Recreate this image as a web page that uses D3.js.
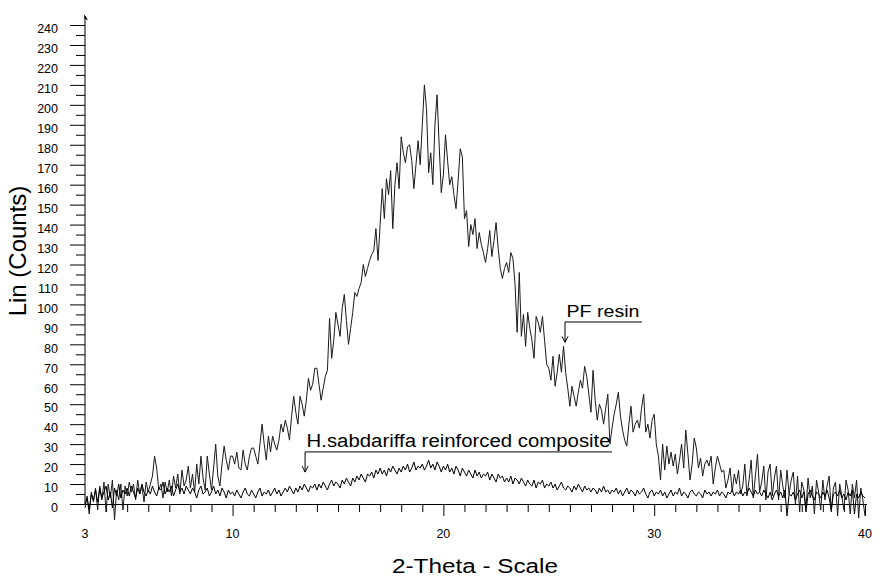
<!DOCTYPE html>
<html lang="en">
<head>
<meta charset="UTF-8">
<title>XRD - PF resin / H.sabdariffa composite</title>
<script src="https://d3js.org/d3.v7.min.js"></script>
<style>
  body { margin: 0; background: #fff; }
  svg { display: block; font-family: "Liberation Sans", Arial, sans-serif; }
</style>
</head>
<body>
<svg id="chart" width="882" height="586"></svg>
<script>
// scan grid: 2-theta 3..40 deg in 0.1 deg steps
const scanStart = 3;
const scanStep = 0.1;

// PF resin counts, one row per degree
const pfResin = [
  -2, 4, -5, 6, 1, 8, -3, 9, 2, 11,
  -4, 10, 3, 12, -8, 7, 2, 10, -3, 9,
  4, 11, 6, 10, 2, 12, 5, 9, 1, 11,
  6, 10, 14, 24, 18, 7, 10, 3, 11, 6,
  12, 4, 14, 8, 15, 5, 17, 9, 12, 19,
  8, 15, 6, 20, 10, 24, 13, 7, 24, 15,
  7, 18, 30, 14, 9, 20, 29, 22, 17, 24,
  24, 20, 26, 18, 17, 27, 20, 17, 24, 28,
  28, 24, 20, 30, 40, 30, 22, 34, 26, 34,
  30, 27, 32, 40, 36, 42, 38, 32, 44, 54,
  46, 40, 54, 50, 44, 52, 63, 57, 60, 68,
  68, 60, 52, 58, 64, 67, 93, 73, 82, 96,
  90, 84, 98, 105, 92, 80, 88, 96, 106, 104,
  108, 111, 120, 114, 118, 122, 125, 127, 138, 122,
  140, 158, 143, 163, 155, 167, 138, 160, 171, 158,
  184, 176, 171, 179, 180, 172, 158, 170, 182, 170,
  190, 210, 198, 166, 176, 160, 190, 205, 180, 156,
  165, 185, 172, 160, 164, 155, 148, 162, 178, 174,
  143, 147, 129, 140, 135, 143, 128, 136, 130, 126,
  121, 128, 137, 124, 132, 141, 128, 118, 113, 118,
  121, 116, 126, 123, 110, 86, 116, 84, 95, 79,
  96, 88, 82, 73, 94, 91, 86, 94, 82, 70,
  68, 62, 74, 59, 66, 75, 66, 79, 66, 58,
  49, 59, 54, 49, 56, 62, 58, 69, 64, 55,
  46, 67, 52, 42, 50, 47, 40, 48, 55, 30,
  38, 45, 50, 56, 44, 37, 32, 29, 40, 49,
  36, 40, 42, 38, 48, 55, 36, 40, 33, 42,
  45, 30, 24, 12, 30, 17, 29, 20, 26, 19,
  25, 15, 22, 30, 18, 37, 25, 12, 20, 33,
  28, 18, 23, 14, 20, 22, 19, 24, 10, 18,
  24, 20, 16, 17, 8, 12, 18, 6, 15, 10,
  17, 5, 9, 20, 4, 12, 22, 3, 14, 25,
  6, 11, 19, 2, 16, 20, 4, 13, 19, 2,
  17, 9, 3, 17, 5, 12, 16, 0, 14, -4,
  11, 7, -2, 13, 3, 9, -5, 12, 6, -3,
  12, 2, 9, 14, -4, 8, 11, -6, 10, 4,
  -3, 12, 7, -5, 10, 3, 12, -7, 8, 2,
  -6
];

// H.sabdariffa reinforced composite counts
const composite = [
  0, 3, -3, 5, 2, 7, 1, 8, 3, 6,
  9, 2, 6, -2, 8, 4, 10, 3, 7, 5,
  8, 4, 9, 6, 3, 8, 5, 10, 6, 4,
  7, 5, 9, 6, 4, 8, 7, 11, 5, 8,
  6, 9, 4, 7, 10, 6, 8, 5, 9, 7,
  5, 8, 6, 3, 7, 9, 5, 6, 8, 4,
  6, 9, 5, 7, 4, 8, 6, 3, 7, 5,
  6, 4, 7, 5, 3, 6, 8, 5, 4, 7,
  5, 3, 6, 8, 4, 6, 5, 7, 4, 6,
  8, 5, 7, 4, 6, 8, 6, 9, 7, 5,
  8, 6, 9, 7, 10, 8, 6, 9, 8, 10,
  7, 10, 8, 11, 9, 7, 10, 12, 9, 11,
  10, 8, 12, 10, 13, 11, 9, 13, 11, 14,
  12, 15, 13, 11, 15, 14, 16, 13, 17, 15,
  18, 15, 17, 14, 18, 16, 19, 17, 15, 18,
  16, 19, 17, 20, 16, 18, 21, 17, 19, 18,
  20, 17, 19, 22, 18, 20, 17, 21, 19, 16,
  19, 17, 20, 16, 18, 15, 19, 17, 14, 18,
  16, 14, 17, 15, 13, 17, 14, 16, 13, 15,
  14, 16, 12, 15, 13, 11, 15, 13, 14, 11,
  13, 11, 14, 10, 13, 12, 10, 13, 11, 9,
  12, 10, 9, 12, 8, 11, 10, 12, 8, 10,
  9, 11, 8, 10, 7, 9, 11, 8, 7, 9,
  8, 6, 9, 7, 10, 8, 6, 9, 7, 8,
  6, 8, 7, 5, 8, 6, 9, 6, 7, 5,
  7, 6, 8, 5, 7, 4, 6, 8, 5, 7,
  6, 4, 7, 5, 6, 8, 5, 3, 6, 7,
  4, 6, 5, 7, 4, 6, 3, 5, 7, 4,
  6, 5, 8, 4, 6, 5, 3, 6, 7, 5,
  4, 6, 5, 3, 7, 5, 6, 4, 6, 5,
  7, 4, 6, 5, 3, 6, 5, 7, 4, 6,
  5, 7, 4, 6, 5, 8, 6, 4, 7, 5,
  6, 4, 7, 5, 3, 6, 2, 5, 7, 4,
  6, 3, 7, -6, 5, 4, 6, 2, 5, 7,
  3, 6, -4, 5, 7, 4, 2, 6, 5, 3,
  6, 4, 7, 3, -3, 5, 6, 4, 7, 3,
  5, 2, 6, 4, 7, -5, 5, 3, 6, 4,
  3
];

const xTickLabels = [3, 10, 20, 30, 40];
const yTickLabels = [0, 10, 20, 30, 40, 50, 60, 70, 80, 90, 100, 110, 120,
  130, 140, 150, 160, 170, 180, 190, 200, 210, 220, 230, 240];

// callouts: arrow tip (2theta, counts), elbow height, end of the shelf line
const callouts = [
  { text: "PF resin", tip: [25.77, 81], elbow: 91.2, end: 29.42, textLen: 73, size: 17 },
  { text: "H.sabdariffa reinforced composite", tip: [13.44, 16], elbow: 26.1, end: 28.0, textLen: 304, size: 18 }
];

const svg = d3.select("#chart");
const x = d3.scaleLinear().domain([3, 40]).range([85, 865]);
const y = d3.scaleLinear().domain([0, 240]).range([504, 25]);

// y axis
const yAxis = svg.append("g").attr("transform", "translate(85,0)");
yAxis.call(d3.axisLeft(y).tickValues(yTickLabels).tickSize(15).tickPadding(12))
  .call(g => g.select(".domain").remove());
yAxis.append("g").call(d3.axisLeft(y).tickValues(d3.range(5, 240, 10)).tickSize(9).tickFormat(""))
  .call(g => g.select(".domain").remove());
yAxis.selectAll("text")
  .attr("font-family", "Liberation Sans, Arial, sans-serif")
  .attr("font-size", 12.5)
  .attr("fill", "#000")
  .attr("dy", "0.62em");
yAxis.selectAll("line").attr("stroke", "#000");

svg.append("line")
  .attr("x1", 85).attr("x2", 85).attr("y1", 504.5).attr("y2", 16)
  .attr("stroke", "#000");
svg.append("path")
  .attr("d", "M84,14 L88,20 L84.5,19 Z")
  .attr("fill", "#000");

// x axis
const xAxis = svg.append("g").attr("transform", "translate(0,504)");
const xMinor = d3.range(4, 41).filter(v => v % 10 !== 0);
xAxis.call(d3.axisBottom(x).tickValues(xMinor).tickSize(8).tickFormat(""))
  .call(g => g.select(".domain").remove());
xAxis.append("g").call(d3.axisBottom(x).tickValues([10, 20, 30, 40]).tickSize(12).tickFormat(""))
  .call(g => g.select(".domain").remove());
xAxis.selectAll("line").attr("stroke", "#000");

svg.append("line")
  .attr("x1", 70).attr("x2", 867).attr("y1", 504.5).attr("y2", 504.5)
  .attr("stroke", "#000");

svg.append("g").selectAll("text")
  .data(xTickLabels)
  .join("text")
  .attr("x", d => x(d))
  .attr("y", 538)
  .attr("text-anchor", "middle")
  .attr("font-size", 12.5)
  .text(d => d);

// axis titles
svg.append("text")
  .attr("transform", "translate(26,251) rotate(-90)")
  .attr("text-anchor", "middle")
  .attr("font-size", 24)
  .text("Lin (Counts)");

svg.append("text")
  .attr("x", 392).attr("y", 573)
  .attr("font-size", 20)
  .attr("textLength", 166)
  .attr("lengthAdjust", "spacingAndGlyphs")
  .text("2-Theta - Scale");

// patterns
const line = d3.line()
  .x((d, i) => x(scanStart + i * scanStep))
  .y(d => y(d));

svg.append("path")
  .datum(pfResin)
  .attr("d", line)
  .attr("fill", "none")
  .attr("stroke", "#1a1a1a")
  .attr("stroke-width", 1);

svg.append("path")
  .datum(composite)
  .attr("d", line)
  .attr("fill", "none")
  .attr("stroke", "#000")
  .attr("stroke-width", 1);

// callouts
callouts.forEach(c => {
  const tx = x(c.tip[0]), ty = y(c.tip[1]);
  const ey = y(c.elbow), ex = x(c.end);
  svg.append("path")
    .attr("d", `M${ex},${ey} H${tx} V${ty} M${tx - 3},${ty - 6} L${tx},${ty} L${tx + 3},${ty - 6}`)
    .attr("fill", "none")
    .attr("stroke", "#000")
    .attr("stroke-width", 1);
  svg.append("text")
    .attr("x", tx + 1.5)
    .attr("y", ey - 5)
    .attr("font-size", c.size)
    .attr("textLength", c.textLen)
    .attr("lengthAdjust", "spacingAndGlyphs")
    .text(c.text);
});
</script>
</body>
</html>
